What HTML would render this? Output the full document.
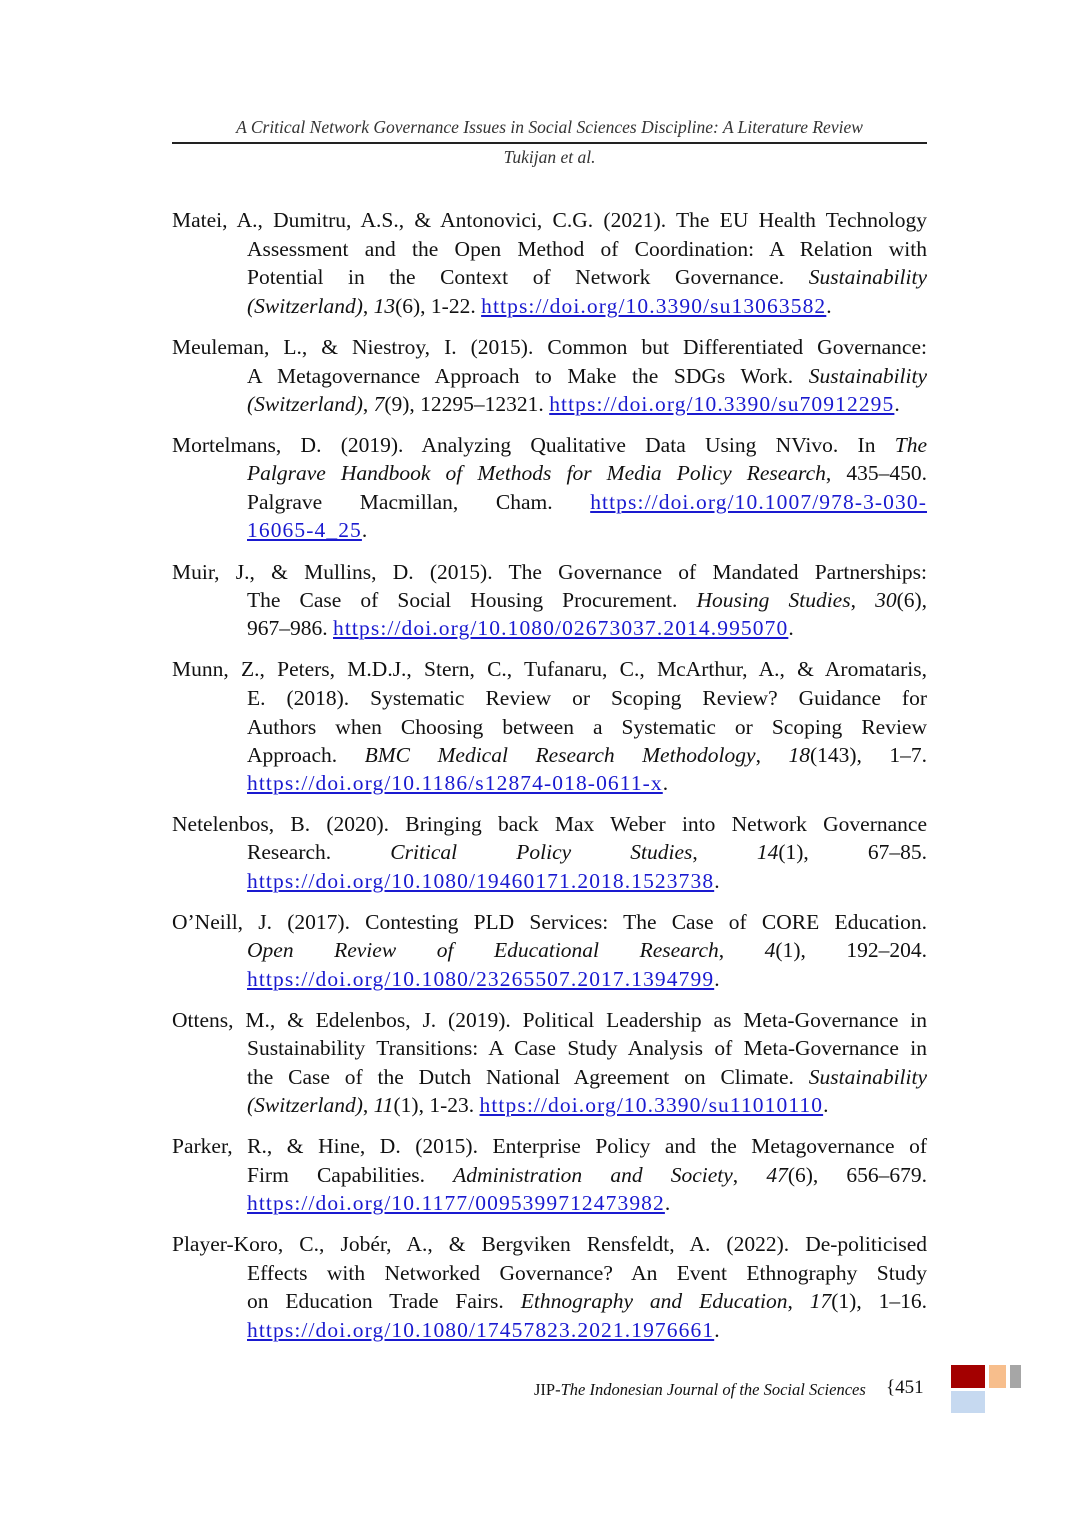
<!DOCTYPE html>
<html><head><meta charset="utf-8"><style>
html,body{margin:0;padding:0;background:#fff}
body{width:1075px;height:1518px;position:relative;overflow:hidden;font-family:"Liberation Serif",serif;color:#111}
.h{position:absolute;left:172px;width:755px;text-align:center;font-style:italic;font-size:17.5px;color:#333}
.l{position:absolute;left:247px;width:680px;height:28px;line-height:28px;font-size:21.5px;text-align:justify;text-align-last:justify;white-space:normal}
.f{left:172px;width:755px}
.e{text-align-last:left}
a{color:#1a1ad0;text-decoration:underline;letter-spacing:1.1px}
i{font-style:italic}
.sq{position:absolute}
</style></head><body>
<div class="h" style="top:117px">A Critical Network Governance Issues in Social Sciences Discipline: A Literature Review</div>
<div style="position:absolute;left:172px;top:142px;width:755px;height:2px;background:#222"></div>
<div class="h" style="top:147px">Tukijan et al.</div>

<div class="l f" style="top:206px">Matei, A., Dumitru, A.S., &amp; Antonovici, C.G. (2021). The EU Health Technology</div>
<div class="l" style="top:235px">Assessment and the Open Method of Coordination: A Relation with</div>
<div class="l" style="top:263px">Potential in the Context of Network Governance. <i>Sustainability</i></div>
<div class="l e" style="top:292px"><i>(Switzerland)</i>, <i>13</i>(6), 1-22. <a>https://doi.org/10.3390/su13063582</a>.</div>

<div class="l f" style="top:333px">Meuleman, L., &amp; Niestroy, I. (2015). Common but Differentiated Governance:</div>
<div class="l" style="top:362px">A Metagovernance Approach to Make the SDGs Work. <i>Sustainability</i></div>
<div class="l e" style="top:390px"><i>(Switzerland)</i>, <i>7</i>(9), 12295–12321. <a>https://doi.org/10.3390/su70912295</a>.</div>

<div class="l f" style="top:431px">Mortelmans, D. (2019). Analyzing Qualitative Data Using NVivo. In <i>The</i></div>
<div class="l" style="top:459px"><i>Palgrave Handbook of Methods for Media Policy Research</i>, 435–450.</div>
<div class="l" style="top:488px">Palgrave Macmillan, Cham. <a>https://doi.org/10.1007/978-3-030-</a></div>
<div class="l e" style="top:516px"><a>16065-4_25</a>.</div>

<div class="l f" style="top:558px">Muir, J., &amp; Mullins, D. (2015). The Governance of Mandated Partnerships:</div>
<div class="l" style="top:586px">The Case of Social Housing Procurement. <i>Housing Studies</i>, <i>30</i>(6),</div>
<div class="l e" style="top:614px">967–986. <a>https://doi.org/10.1080/02673037.2014.995070</a>.</div>

<div class="l f" style="top:655px">Munn, Z., Peters, M.D.J., Stern, C., Tufanaru, C., McArthur, A., &amp; Aromataris,</div>
<div class="l" style="top:684px">E. (2018). Systematic Review or Scoping Review? Guidance for</div>
<div class="l" style="top:713px">Authors when Choosing between a Systematic or Scoping Review</div>
<div class="l" style="top:741px">Approach. <i>BMC Medical Research Methodology</i>, <i>18</i>(143), 1–7.</div>
<div class="l e" style="top:769px"><a>https://doi.org/10.1186/s12874-018-0611-x</a>.</div>

<div class="l f" style="top:810px">Netelenbos, B. (2020). Bringing back Max Weber into Network Governance</div>
<div class="l" style="top:838px">Research. <i>Critical</i> <i>Policy</i> <i>Studies</i>, <i>14</i>(1), 67–85.</div>
<div class="l e" style="top:867px"><a>https://doi.org/10.1080/19460171.2018.1523738</a>.</div>

<div class="l f" style="top:908px">O’Neill, J. (2017). Contesting PLD Services: The Case of CORE Education.</div>
<div class="l" style="top:936px"><i>Open</i> <i>Review</i> <i>of</i> <i>Educational</i> <i>Research</i>, <i>4</i>(1), 192–204.</div>
<div class="l e" style="top:965px"><a>https://doi.org/10.1080/23265507.2017.1394799</a>.</div>

<div class="l f" style="top:1006px">Ottens, M., &amp; Edelenbos, J. (2019). Political Leadership as Meta-Governance in</div>
<div class="l" style="top:1034px">Sustainability Transitions: A Case Study Analysis of Meta-Governance in</div>
<div class="l" style="top:1063px">the Case of the Dutch National Agreement on Climate. <i>Sustainability</i></div>
<div class="l e" style="top:1091px"><i>(Switzerland)</i>, <i>11</i>(1), 1-23. <a>https://doi.org/10.3390/su11010110</a>.</div>

<div class="l f" style="top:1132px">Parker, R., &amp; Hine, D. (2015). Enterprise Policy and the Metagovernance of</div>
<div class="l" style="top:1161px">Firm Capabilities. <i>Administration</i> <i>and</i> <i>Society</i>, <i>47</i>(6), 656–679.</div>
<div class="l e" style="top:1189px"><a>https://doi.org/10.1177/0095399712473982</a>.</div>

<div class="l f" style="top:1230px">Player-Koro, C., Jobér, A., &amp; Bergviken Rensfeldt, A. (2022). De-politicised</div>
<div class="l" style="top:1259px">Effects with Networked Governance? An Event Ethnography Study</div>
<div class="l" style="top:1287px">on Education Trade Fairs. <i>Ethnography and Education</i>, <i>17</i>(1), 1–16.</div>
<div class="l e" style="top:1316px"><a>https://doi.org/10.1080/17457823.2021.1976661</a>.</div>

<div style="position:absolute;left:534px;top:1380px;font-size:16.5px;color:#111">JIP-<i>The Indonesian Journal of the Social Sciences</i></div>
<div style="position:absolute;left:886px;top:1377px;font-size:19px;color:#111">{451</div>
<div class="sq" style="left:951px;top:1365px;width:34px;height:23px;background:#a30000"></div>
<div class="sq" style="left:989px;top:1365px;width:17px;height:23px;background:#f7be8c"></div>
<div class="sq" style="left:1010px;top:1365px;width:11px;height:23px;background:#a6a6a6"></div>
<div class="sq" style="left:951px;top:1391px;width:34px;height:22px;background:#c6d9f0"></div>
</body></html>
